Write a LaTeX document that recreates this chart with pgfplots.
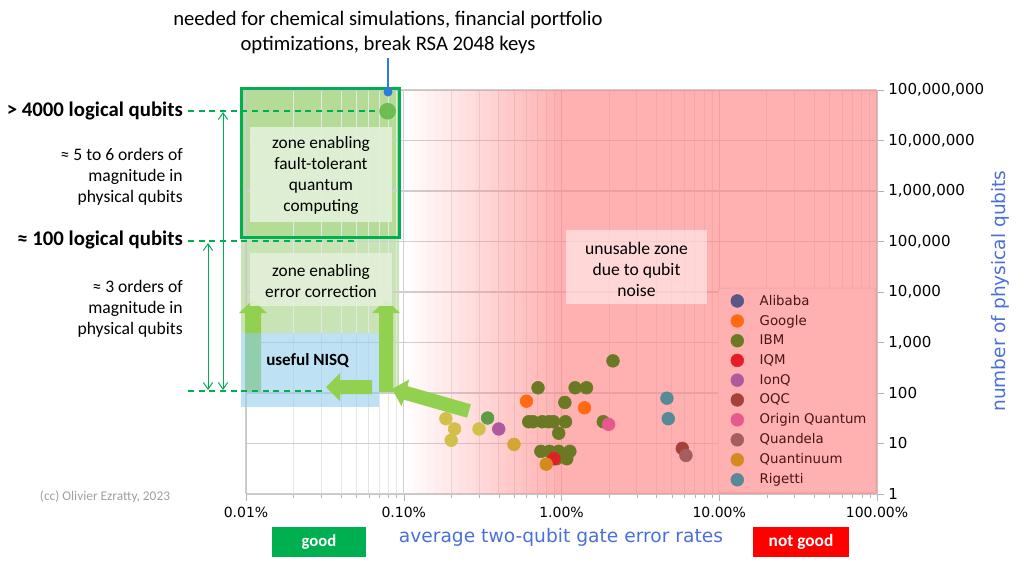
\documentclass[border=0pt]{standalone}
\usepackage{pgfplots}
\pgfplotsset{compat=1.18}
\usepackage{fontspec}
\setmainfont{Carlito}
\newfontfamily\dejavu{DejaVu Sans}
\usetikzlibrary{arrows.meta}
\definecolor{ftfill}{HTML}{B5DC96}
\definecolor{ecfill}{HTML}{C8E4B4}
\definecolor{boxfill}{HTML}{E2F0D9}
\definecolor{dkgreen}{HTML}{00B050}
\definecolor{arrowgreen}{HTML}{92D050}
\definecolor{nisqblue}{HTML}{93CDEB}
\definecolor{redzone}{HTML}{FF8585}
\definecolor{axisblue}{HTML}{4A70D8}
\definecolor{callout}{HTML}{2F7BE0}
\definecolor{cAlibaba}{HTML}{585785}
\definecolor{cGoogle}{HTML}{FF6A13}
\definecolor{cIBM}{HTML}{6B7A22}
\definecolor{cIQM}{HTML}{E41E26}
\definecolor{cIonQ}{HTML}{B05A9E}
\definecolor{cOQC}{HTML}{A8403A}
\definecolor{cOrigin}{HTML}{E8588E}
\definecolor{cQuandela}{HTML}{A55E5E}
\definecolor{cQuantinuum}{HTML}{D48A1E}
\definecolor{cRigetti}{HTML}{558A96}
\definecolor{cKhaki}{HTML}{D2C04A}
\definecolor{cGreen}{HTML}{5E9B45}
\definecolor{cGold}{HTML}{D4A535}
\definecolor{cTarget}{HTML}{62B845}
\definecolor{legfill}{HTML}{FFB0B0}
\definecolor{legdraw}{HTML}{E8A0A0}
\definecolor{legtext}{HTML}{4A1515}
\definecolor{gridc}{HTML}{CFCFCF}
\definecolor{minorgridc}{HTML}{E6E6E6}

\begin{document}
\begin{tikzpicture}
\begin{scope}[x=0.75pt,y=-0.75pt]
\path[use as bounding box] (0,0) rectangle (1030,569);
\fill[ecfill] (241,238) -- (399,238) -- (399,392) -- (379,392) -- (379,333) -- (241,333) -- cycle;
\fill[ftfill] (241,88) rectangle (399,238);
\end{scope}

\begin{axis}[
  at={(184.5pt,-370.5pt)}, anchor=south west,
  scale only axis, width=473.25pt, height=303pt,
  xmode=log, ymode=log,
  xmin=0.01, xmax=100, ymin=1, ymax=1e8,
  xtick={0.01,0.1,1,10,100},
  xticklabels={0.01\%,0.10\%,1.00\%,10.00\%,100.00\%},
  ytick={1,10,100,1000,10000,100000,1000000,10000000,100000000},
  yticklabels={1,10,100,{1,000},{10,000},{100,000},{1,000,000},{10,000,000},{100,000,000}},
  xtick pos=bottom, ytick pos=right, yticklabel pos=right,
  yminorticks=false,
  tick align=outside,
  major tick length=5pt, minor tick length=3pt,
  tick style={gray!60},
  xmajorgrids=true, xminorgrids=true, ymajorgrids=true, yminorgrids=false,
  major grid style={gridc, line width=0.8pt},
  minor grid style={minorgridc, line width=0.6pt},
  axis line style={gray!45},
  xticklabel style={font=\dejavu\fontsize{10.5}{12}\selectfont, text=black, yshift=-1pt},
  yticklabel style={font=\dejavu\fontsize{11.3}{13}\selectfont, text=black},
  legend image code/.code={\path[draw=none,fill=none] (0cm,0cm) -- (0.85cm,0cm); \draw[#1] plot coordinates {(0.33cm,0cm)};},
  legend style={at={(rel axis cs:0.9985,0.003)}, anchor=south east, fill=legfill, draw=legdraw,
     rounded corners=2pt, font=\dejavu\fontsize{10}{11.5}\selectfont, text=legtext,
     row sep=1.9pt, inner xsep=5pt, inner ysep=3pt},
  legend cell align=left,
]
\fill[redzone, fill opacity=0.01625] (axis cs:0.1,1) rectangle (axis cs:0.1122,1e8);
\fill[redzone, fill opacity=0.04875] (axis cs:0.1122,1) rectangle (axis cs:0.1259,1e8);
\fill[redzone, fill opacity=0.08125] (axis cs:0.1259,1) rectangle (axis cs:0.1413,1e8);
\fill[redzone, fill opacity=0.11375] (axis cs:0.1413,1) rectangle (axis cs:0.1585,1e8);
\fill[redzone, fill opacity=0.14625] (axis cs:0.1585,1) rectangle (axis cs:0.1778,1e8);
\fill[redzone, fill opacity=0.17875] (axis cs:0.1778,1) rectangle (axis cs:0.1995,1e8);
\fill[redzone, fill opacity=0.21125] (axis cs:0.1995,1) rectangle (axis cs:0.2239,1e8);
\fill[redzone, fill opacity=0.24375] (axis cs:0.2239,1) rectangle (axis cs:0.2512,1e8);
\fill[redzone, fill opacity=0.27625] (axis cs:0.2512,1) rectangle (axis cs:0.2818,1e8);
\fill[redzone, fill opacity=0.30875] (axis cs:0.2818,1) rectangle (axis cs:0.3162,1e8);
\fill[redzone, fill opacity=0.34125] (axis cs:0.3162,1) rectangle (axis cs:0.3548,1e8);
\fill[redzone, fill opacity=0.37375] (axis cs:0.3548,1) rectangle (axis cs:0.3981,1e8);
\fill[redzone, fill opacity=0.40625] (axis cs:0.3981,1) rectangle (axis cs:0.4467,1e8);
\fill[redzone, fill opacity=0.43875] (axis cs:0.4467,1) rectangle (axis cs:0.5012,1e8);
\fill[redzone, fill opacity=0.47125] (axis cs:0.5012,1) rectangle (axis cs:0.5623,1e8);
\fill[redzone, fill opacity=0.50375] (axis cs:0.5623,1) rectangle (axis cs:0.6310,1e8);
\fill[redzone, fill opacity=0.53625] (axis cs:0.6310,1) rectangle (axis cs:0.7079,1e8);
\fill[redzone, fill opacity=0.56875] (axis cs:0.7079,1) rectangle (axis cs:0.7943,1e8);
\fill[redzone, fill opacity=0.60125] (axis cs:0.7943,1) rectangle (axis cs:0.8913,1e8);
\fill[redzone, fill opacity=0.63375] (axis cs:0.8913,1) rectangle (axis cs:1,1e8);
\fill[redzone, fill opacity=0.65] (axis cs:1,1) rectangle (axis cs:100,1e8);

\addplot[only marks, mark=*, mark size=6pt, color=cTarget, opacity=0.85, forget plot] coordinates {(0.079,3.8e7)};

\addlegendimage{only marks, mark=*, mark size=4.8pt, color=cAlibaba}
\addlegendentry{Alibaba}
\addplot[only marks, mark=*, mark size=4.8pt, color=cGoogle] coordinates {(0.60,69) (1.40,51)};
\addlegendentry{Google}
\addplot[only marks, mark=*, mark size=4.8pt, color=cIBM] coordinates {
 (2.12,433) (0.71,127) (1.22,127) (1.44,127) (1.05,65)
 (0.62,27) (0.66,27) (0.755,27) (0.83,27) (0.89,27) (1.06,27) (1.84,27)
 (0.96,16) (0.74,7) (0.84,7) (0.96,7) (1.13,7) (0.93,5) (1.08,5)};
\addlegendentry{IBM}
\addplot[only marks, mark=*, mark size=4.8pt, color=cIQM] coordinates {(0.895,5)};
\addlegendentry{IQM}
\addplot[only marks, mark=*, mark size=4.8pt, color=cIonQ] coordinates {(0.40,19.4)};
\addlegendentry{IonQ}
\addplot[only marks, mark=*, mark size=4.8pt, color=cOQC] coordinates {(5.83,8)};
\addlegendentry{OQC}
\addplot[only marks, mark=*, mark size=4.8pt, color=cOrigin] coordinates {(1.99,24)};
\addlegendentry{Origin Quantum}
\addplot[only marks, mark=*, mark size=4.8pt, color=cQuandela] coordinates {(6.15,5.8)};
\addlegendentry{Quandela}
\addplot[only marks, mark=*, mark size=4.8pt, color=cQuantinuum] coordinates {(0.80,3.9)};
\addlegendentry{Quantinuum}
\addplot[only marks, mark=*, mark size=4.8pt, color=cRigetti] coordinates {(4.66,79) (4.75,31)};
\addlegendentry{Rigetti}
\addplot[only marks, mark=*, mark size=4.8pt, color=cKhaki, forget plot] coordinates {(0.185,31) (0.21,19.4) (0.20,11.6) (0.30,19.4)};
\addplot[only marks, mark=*, mark size=4.8pt, color=cGreen, forget plot] coordinates {(0.34,32)};
\addplot[only marks, mark=*, mark size=4.8pt, color=cGold, forget plot] coordinates {(0.50,9.6)};
\end{axis}

\begin{scope}[x=0.75pt,y=-0.75pt]
% arrows and NISQ
\fill[arrowgreen] (245,392) -- (261,392) -- (261,313) -- (267,313) -- (253,300) -- (239,313) -- (245,313) -- cycle;
\fill[nisqblue, fill opacity=0.6] (241,333) rectangle (379,407);
\fill[arrowgreen] (379,392) -- (393,392) -- (393,313) -- (400,313) -- (386,300) -- (372,313) -- (379,313) -- cycle;
\fill[arrowgreen] (372,380) -- (372,394) -- (340,394) -- (340,401) -- (326,387) -- (340,373) -- (340,380) -- cycle;
\fill[arrowgreen] (470.9,404.3) -- (407.4,386.1) -- (409.3,379.4) -- (392,389) -- (401.6,406.3) -- (403.5,399.6) -- (467.1,417.7) -- cycle;
\node[anchor=west, inner sep=0, font=\bfseries\fontsize{12.8}{15}\selectfont] at (266,361) {useful NISQ};
% text boxes
\fill[boxfill, fill opacity=0.9] (250,127) rectangle (392,222);
\fill[boxfill, fill opacity=0.9] (250,253) rectangle (392,306);
\node[align=center, font=\fontsize{13}{15.75}\selectfont] at (321,175) {zone enabling\\fault-tolerant\\quantum\\computing};
\node[align=center, font=\fontsize{13}{15.75}\selectfont] at (321,281) {zone enabling\\error correction};
\draw[dkgreen, line width=2.25pt] (241,88) rectangle (399,237);
% dashed
\draw[dkgreen, line width=0.9pt, dash pattern=on 4.5pt off 3.5pt] (188,111) -- (380,111);
\draw[dkgreen, line width=0.9pt, dash pattern=on 4.5pt off 3.5pt] (188,241) -- (358,241);
\draw[dkgreen, line width=0.9pt, dash pattern=on 4.5pt off 3.5pt] (188,391) -- (326,391);
\draw[dkgreen, line width=0.75pt, {Straight Barb[length=5pt,width=7pt]}-{Straight Barb[length=5pt,width=7pt]}] (223,112) -- (223,390);
\draw[dkgreen, line width=0.75pt, {Straight Barb[length=5pt,width=7pt]}-{Straight Barb[length=5pt,width=7pt]}] (208,243) -- (208,390);
% callout
\draw[callout, line width=1.2pt] (388,92) -- (388,58);
\fill[callout] (388,92) circle (4.5);
\node[align=center, font=\fontsize{15.5}{18.75}\selectfont] at (388,32) {needed for chemical simulations, financial portfolio\\optimizations, break RSA 2048 keys};
% left labels
\node[anchor=east, inner sep=0, font=\bfseries\fontsize{15.6}{18}\selectfont] at (183,111) {> 4000 logical qubits};
\node[anchor=east, inner sep=0, font=\bfseries\fontsize{15.6}{18}\selectfont] at (183,240) {≈ 100 logical qubits};
\node[anchor=east, inner sep=0, align=right, font=\fontsize{13.2}{15.75}\selectfont] at (183,177) {≈ 5 to 6 orders of\\magnitude in\\physical qubits};
\node[anchor=east, inner sep=0, align=right, font=\fontsize{13.2}{15.75}\selectfont] at (183,308.5) {≈ 3 orders of\\magnitude in\\physical qubits};
% unusable zone
\fill[white, fill opacity=0.5] (566,230) rectangle (707,304);
\node[align=center, font=\fontsize{13.2}{15.75}\selectfont] at (636.5,269) {unusable zone\\due to qubit\\noise};
% copyright
\node[text=gray!75, font=\fontsize{10}{12}\selectfont] at (105,497) {(cc) Olivier Ezratty, 2023};
% good / not good
\fill[dkgreen] (272,527) rectangle (366,557);
\node[text=white, font=\bfseries\fontsize{12.5}{14}\selectfont] at (319,542) {good};
\fill[red] (753,527) rectangle (849,557);
\node[text=white, font=\bfseries\fontsize{13}{15}\selectfont] at (801,542) {not good};
% axis labels
\node[text=axisblue, font=\dejavu\fontsize{14}{16}\selectfont] at (561,537) {average two-qubit gate error rates};
\node[rotate=90, text=axisblue, font=\dejavu\fontsize{13.9}{16}\selectfont] at (1000,291) {number of physical qubits};
\end{scope}
\end{tikzpicture}
\end{document}
